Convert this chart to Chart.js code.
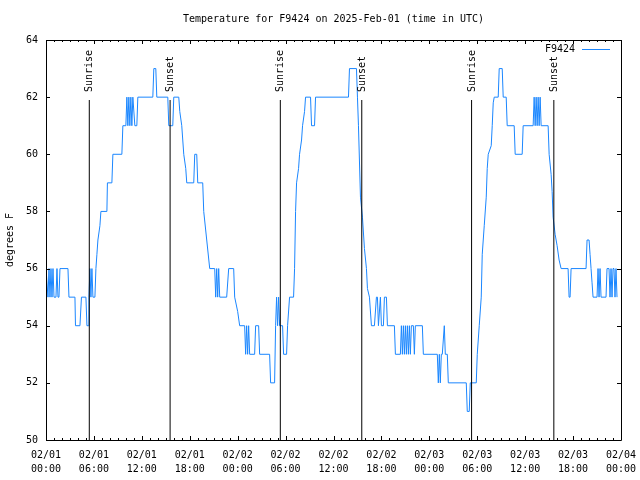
<!DOCTYPE html>
<html>
<head>
<meta charset="utf-8">
<script src="https://cdn.jsdelivr.net/npm/chart.js@4"></script>
<style>
  html, body { margin: 0; padding: 0; background: #fff; }
  #wrap { width: 640px; height: 480px; }
</style>
</head>
<body>
<div id="wrap"><canvas id="chart" width="640" height="480"></canvas></div>
<script>
// hours since 02/01 00:00 UTC, and temperature
const hours = [
  0, 0.125, 0.25, 0.375, 0.5, 0.625, 0.75, 0.875, 1.0, 1.25, 1.375, 1.5, 1.625, 1.75, 2.0, 2.75, 2.875, 3.625, 3.69, 4.25,
  4.44, 5.0, 5.125, 5.31, 5.375, 5.5, 5.625, 5.75, 5.875, 6.125, 6.25, 6.375, 6.5, 6.75, 6.875, 7.625, 7.69, 8.25, 8.375, 9.5,
  9.625, 10.0, 10.125, 10.25, 10.375, 10.5, 10.625, 10.75, 10.875, 11.125, 11.375, 11.5, 13.375, 13.5, 13.75, 13.875, 15.25, 15.375, 15.875, 16.0,
  16.625, 16.75, 17.0, 17.25, 17.5, 17.625, 18.5, 18.625, 18.875, 19.0, 19.625, 19.75, 20.125, 20.5, 21.125, 21.25, 21.375, 21.5, 21.625, 21.75,
  22.625, 22.875, 23.5, 23.625, 24.0, 24.25, 24.875, 25.0, 25.125, 25.25, 25.375, 25.5, 26.125, 26.25, 26.625, 26.75, 28.0, 28.125, 28.625, 28.75,
  28.875, 29.0, 29.125, 29.25, 29.625, 29.75, 30.125, 30.25, 30.5, 31.0, 31.125, 31.25, 31.375, 31.625, 31.75, 32.0, 32.125, 32.375, 32.5, 33.125,
  33.25, 33.625, 33.75, 37.875, 38.0, 38.875, 39.0, 39.125, 39.375, 39.625, 39.875, 40.125, 40.25, 40.5, 40.75, 41.125, 41.375, 41.5, 41.625, 41.875,
  42.0, 42.25, 42.375, 42.625, 42.75, 43.625, 43.75, 44.375, 44.5, 44.625, 44.75, 44.875, 45.0, 45.125, 45.25, 45.375, 45.5, 45.625, 45.75, 46.0,
  46.125, 46.25, 47.125, 47.25, 49.0, 49.125, 49.25, 49.375, 49.5, 49.625, 49.875, 50.0, 50.25, 50.375, 52.625, 52.75, 53.0, 53.125, 53.875, 54.0,
  54.25, 54.5, 54.625, 54.875, 55.125, 55.25, 55.375, 55.75, 55.875, 56.0, 56.125, 56.625, 56.75, 57.125, 57.25, 57.625, 57.75, 58.625, 58.75, 59.625,
  59.75, 61.0, 61.125, 61.25, 61.375, 61.5, 61.625, 61.75, 61.875, 62.0, 62.875, 63.0, 63.25, 63.375, 63.5, 63.75, 64.0, 64.25, 64.5, 65.375,
  65.5, 65.625, 65.75, 67.625, 67.75, 68.0, 68.125, 68.25, 68.375, 68.5, 69.0, 69.125, 69.25, 69.375, 69.5, 70.125, 70.25, 70.5, 70.625, 70.75,
  70.875, 71.0, 71.125, 71.25, 71.375, 71.5
];
const tempF = [
  56, 56, 55, 56, 55, 56, 55, 56, 55, 55, 56, 55, 55, 56, 56, 56, 55, 55, 54, 54,
  55, 55, 54, 54, 55, 56, 55, 56, 55, 55, 56, 56.5, 57, 57.5, 58, 58, 59, 59, 60, 60,
  61, 61, 62, 61, 62, 61, 62, 61, 62, 61, 61, 62, 62, 63, 63, 62, 62, 61, 61, 62,
  62, 61.5, 61, 60, 59.5, 59, 59, 60, 60, 59, 59, 58, 57, 56, 56, 55, 56, 55, 56, 55,
  55, 56, 56, 55, 54.5, 54, 54, 53, 54, 53, 54, 53, 53, 54, 54, 53, 53, 52, 52, 54,
  55, 54, 55, 54, 54, 53, 53, 54, 55, 55, 56, 58, 59, 59.5, 60, 60.5, 61, 61.5, 62, 62,
  61, 61, 62, 62, 63, 63, 62, 61, 58.5, 57.8, 56.7, 56, 55.3, 55, 54, 54, 55, 55, 54, 55,
  54, 54, 55, 55, 54, 54, 53, 53, 54, 53, 54, 53, 54, 53, 54, 53, 54, 53, 54, 54,
  53, 54, 54, 53, 53, 52, 53, 52, 53, 53, 54, 53, 53, 52, 52, 51, 51, 52, 52, 53,
  54, 55, 56.5, 57.5, 58.5, 59.5, 60, 60.3, 61, 61.8, 62, 62, 63, 63, 62, 62, 61, 61, 60, 60,
  61, 61, 62, 61, 62, 61, 62, 61, 62, 61, 61, 60, 59.3, 58.7, 57.8, 57.2, 56.8, 56.3, 56, 56,
  55, 55, 56, 56, 57, 57, 56.5, 56, 55.5, 55, 55, 56, 55, 56, 55, 55, 56, 56, 55, 56,
  55, 56, 56, 55, 56, 55
];
const sunriseHours = [5.42, 29.34, 53.29];
const sunsetHours = [15.54, 39.54, 63.59];
const seriesName = 'F9424';
const chartTitle = 'Temperature for F9424 on 2025-Feb-01 (time in UTC)';
const yTitle = 'degrees F';

const FONT = '"DejaVu Sans Mono", "Liberation Mono", monospace';
const lineColor = '#1a86ff';

const points = hours.map((h, i) => ({ x: h, y: tempF[i] }));

// a vertical marker per sunrise / sunset, from 50 up to just under 62
const markerSets = [];
sunriseHours.forEach(h => markerSets.push({ h, text: 'Sunrise' }));
sunsetHours.forEach(h => markerSets.push({ h, text: 'Sunset' }));

const datasets = [{
  label: seriesName,
  data: points,
  borderColor: lineColor,
  borderWidth: 1,
  pointRadius: 0,
  tension: 0,
  order: 1
}];
markerSets.forEach(m => datasets.push({
  label: m.text,
  data: [{ x: m.h, y: 50 }, { x: m.h, y: 61.9 }],
  borderColor: '#000',
  borderWidth: 1,
  pointRadius: 0,
  order: 0
}));

const pad2 = n => (n < 10 ? '0' : '') + n;

// gnuplot-like extras: frame, inward ticks, title, legend, marker labels
const gnuplotBits = {
  id: 'gnuplotBits',
  afterDraw(chart) {
    const ctx = chart.ctx;
    const a = chart.chartArea;
    const xs = chart.scales.x, ys = chart.scales.y;
    ctx.save();
    ctx.strokeStyle = '#000';
    ctx.lineWidth = 1;
    ctx.beginPath();
    ctx.rect(Math.round(a.left) + 0.5, Math.round(a.top) + 0.5,
             Math.round(a.right - a.left), Math.round(a.bottom - a.top));
    // x ticks every hour, longer every 6
    for (let h = 0; h <= 72; h++) {
      const px = Math.round(xs.getPixelForValue(h)) + 0.5;
      const len = h % 6 === 0 ? 4 : 2;
      ctx.moveTo(px, a.bottom); ctx.lineTo(px, a.bottom - len);
      ctx.moveTo(px, a.top); ctx.lineTo(px, a.top + len);
    }
    for (let v = 50; v <= 64; v += 2) {
      const py = Math.round(ys.getPixelForValue(v)) + 0.5;
      ctx.moveTo(a.left, py); ctx.lineTo(a.left + 4, py);
      ctx.moveTo(a.right, py); ctx.lineTo(a.right - 4, py);
    }
    ctx.stroke();

    ctx.fillStyle = '#000';
    ctx.font = '10px ' + FONT;
    ctx.textAlign = 'center';
    ctx.textBaseline = 'middle';
    ctx.fillText(chartTitle, (a.left + a.right) / 2, 19);

    // y axis title
    ctx.save();
    ctx.translate(10, 240);
    ctx.rotate(-Math.PI / 2);
    ctx.fillText(yTitle, 0, 0);
    ctx.restore();

    // marker labels
    markerSets.forEach(m => {
      const px = xs.getPixelForValue(m.h);
      ctx.save();
      ctx.translate(px + 0.5, 92);
      ctx.rotate(-Math.PI / 2);
      ctx.textAlign = 'left';
      ctx.fillText(m.text, 0, 0);
      ctx.restore();
    });

    // legend
    ctx.textAlign = 'right';
    ctx.fillText(seriesName, 575, 49);
    ctx.strokeStyle = lineColor;
    ctx.beginPath();
    ctx.moveTo(582, 49.5); ctx.lineTo(610, 49.5);
    ctx.stroke();
    ctx.restore();
  }
};

new Chart(document.getElementById('chart'), {
  type: 'line',
  data: { datasets },
  options: {
    responsive: false,
    animation: false,
    events: [],
    layout: { padding: { left: 0, right: 19, top: 40, bottom: 0 } },
    plugins: {
      legend: { display: false },
      title: { display: false },
      tooltip: { enabled: false }
    },
    scales: {
      x: {
        type: 'linear',
        min: 0,
        max: 72,
        afterFit: s => { s.height = 40; s.paddingLeft = 0; s.paddingRight = 0; },
        grid: { display: false, drawTicks: false },
        border: { display: false },
        ticks: {
          stepSize: 6,
          padding: 8,
          maxRotation: 0,
          autoSkip: false,
          color: '#000',
          font: { family: FONT, size: 10, lineHeight: 1.4 },
          callback: v => {
            const day = 1 + Math.floor(v / 24);
            return ['02/' + pad2(day), pad2(v % 24) + ':00'];
          }
        }
      },
      y: {
        min: 50,
        max: 64,
        afterFit: s => { s.width = 46; s.paddingTop = 0; s.paddingBottom = 0; },
        grid: { display: false, drawTicks: false },
        border: { display: false },
        ticks: {
          stepSize: 2,
          padding: 8,
          color: '#000',
          font: { family: FONT, size: 10 }
        }
      }
    }
  },
  plugins: [gnuplotBits]
});
</script>
</body>
</html>
